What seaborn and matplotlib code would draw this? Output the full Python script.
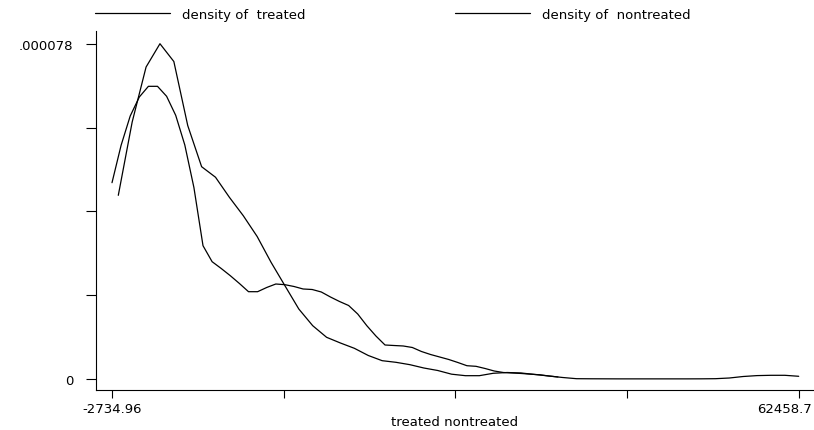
import matplotlib
matplotlib.use("Agg")
import matplotlib.pyplot as plt
import matplotlib.transforms as mtransforms
import seaborn as sns
import pandas as pd

# ---- data ----
treated_x = [-2137, -819, 500, 1818, 3136, 4455, 5773, 7091, 8410, 9728,
             11046, 12365, 13683, 15001, 16320, 17638, 18956, 20275, 21593, 22911,
             24230, 25548, 26866, 28185, 29503, 30821, 32140, 33458, 34776, 36095,
             37413, 38731, 40050, 41368, 42686, 44005, 45323, 46641, 47960, 49278,
             50596, 51915, 53233, 54551, 55870, 57188, 58506, 59825, 61143, 62458.7]
treated_y = [42.73, 59.79, 72.58, 78.0, 73.86, 58.97, 49.39, 46.94, 42.27, 37.99,
             33.15, 27.15, 21.70, 16.28, 12.40, 9.70, 8.37, 7.14, 5.47, 4.26,
             3.88, 3.33, 2.56, 1.98, 1.12, 0.77, 0.77, 1.33, 1.51, 1.40,
             1.05, 0.70, 0.35, 0.07, 0.05, 0.04, 0.03, 0.03, 0.03, 0.03,
             0.03, 0.03, 0.04, 0.07, 0.23, 0.58, 0.79, 0.86, 0.86, 0.63]

nontreated_x = [-2734.96, -1871, -1007, -143, 721, 1585, 2449, 3313, 4177, 5041,
                5905, 6769, 7633, 8497, 9361, 10225, 11089, 11953, 12817, 13681,
                14545, 15409, 16273, 17137, 18001, 18865, 19729, 20593, 21457, 22321,
                23185, 24049, 24913, 25777, 26641, 27505, 28369, 29233, 30097, 30961,
                31825, 32689, 33553, 34417, 35281, 36145, 37009, 37873, 38737, 39601]
nontreated_y = [45.67, 54.37, 61.18, 65.60, 68.09, 68.09, 65.77, 61.34, 54.44, 44.55,
                31.01, 27.29, 25.71, 24.03, 22.22, 20.31, 20.31, 21.29, 22.10, 21.94,
                21.52, 20.94, 20.82, 20.24, 19.08, 18.03, 17.10, 15.12, 12.40, 10.00,
                7.91, 7.79, 7.68, 7.33, 6.40, 5.70, 5.12, 4.54, 3.84, 3.09,
                2.95, 2.44, 1.86, 1.51, 1.40, 1.28, 1.12, 0.98, 0.70, 0.47]
y_scale = 1e-6  # densities above are in units of 1e-6

x_ticks = [-2734.96, 13563.45, 29861.87, 46160.28, 62458.7]
x_tick_labels = ["-2734.96", "", "", "", "62458.7"]
y_ticks = [0, 0.0000195, 0.000039, 0.0000585, 0.000078]
y_tick_labels = ["0", "", "", "", ".000078"]
labels = ["density of  treated", "density of  nontreated"]
x_title = "treated nontreated"

# ---- figure ----
sns.set_style("ticks")
plt.rcParams["font.family"] = ["DejaVu Sans"]
plt.rcParams["text.color"] = "black"
plt.rcParams["axes.labelcolor"] = "black"
plt.rcParams["xtick.color"] = "black"
plt.rcParams["ytick.color"] = "black"
W, H = 814, 431
fig = plt.figure(figsize=(W / 100, H / 100), dpi=100)
ax = fig.add_axes([96 / W, 40 / H, 717 / W, 358.7 / H])

df_t = pd.DataFrame({"x": treated_x, "y": [v * y_scale for v in treated_y]})
df_n = pd.DataFrame({"x": nontreated_x, "y": [v * y_scale for v in nontreated_y]})
sns.lineplot(data=df_t, x="x", y="y", ax=ax, color="black", lw=0.9,
             sort=False, estimator=None, label=labels[0])
sns.lineplot(data=df_n, x="x", y="y", ax=ax, color="black", lw=0.9,
             sort=False, estimator=None, label=labels[1])
handles = ax.get_lines()
if ax.get_legend() is not None:
    ax.get_legend().remove()

ax.set_xlim(-4254, 63816)
ax.set_ylim(-2.56e-6, 80.89e-6)

ax.set_xticks(x_ticks)
ax.set_xticklabels(x_tick_labels)
ax.set_yticks(y_ticks)
ax.set_yticklabels(y_tick_labels)
ax.tick_params(axis="y", length=7.4, width=0.8, pad=9.0, labelsize=9.5,
               color="black", labelcolor="black")
ax.tick_params(axis="x", length=5.8, width=0.8, pad=3.0, labelsize=9.5,
               color="black", labelcolor="black")

# keep the last x tick label inside the figure (right-aligned near the edge)
last = ax.get_xticklabels()[-1]
last.set_horizontalalignment("right")
last.set_transform(last.get_transform() +
                   mtransforms.ScaledTranslation(13 / 100, 0, fig.dpi_scale_trans))

for s in ["top", "right"]:
    ax.spines[s].set_visible(False)
for s in ["left", "bottom"]:
    ax.spines[s].set_linewidth(0.8)
    ax.spines[s].set_color("black")

ax.set_xlabel(x_title, fontsize=9.5, color="black")
ax.set_ylabel("")
ax.xaxis.set_label_coords((455 - 96) / 717, -25.0 / 358.7)

fs = 9.5
fpx = fs * 100 / 72
for h, lab, x0 in [(handles[0], labels[0], 95), (handles[1], labels[1], 455)]:
    lg = fig.legend(handles=[h], labels=[lab], loc="center left",
                    bbox_to_anchor=(x0 / W, 1 - 15 / H), frameon=False,
                    borderpad=0, borderaxespad=0, fontsize=fs,
                    handlelength=75 / fpx, handletextpad=11.7 / fpx)
    for t in lg.get_texts():
        t.set_color("black")

fig.savefig("out.png", dpi=100)
